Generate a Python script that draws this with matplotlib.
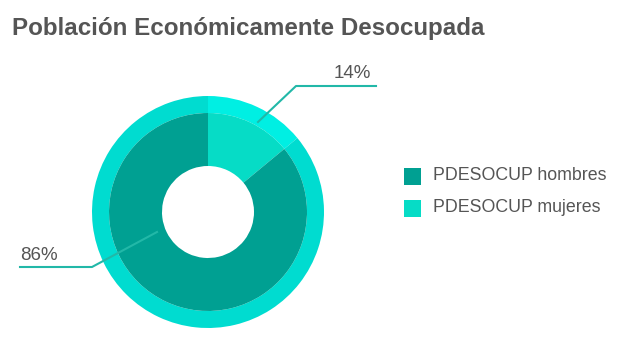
import matplotlib
matplotlib.use("Agg")
import matplotlib.pyplot as plt
from matplotlib.patches import Rectangle

# datos
categorias = ["PDESOCUP mujeres", "PDESOCUP hombres"]
valores = [14, 86]
etiquetas = ["14%", "86%"]

plt.rcParams['font.family'] = ['Liberation Sans', 'DejaVu Sans']

fig = plt.figure(figsize=(6.2, 3.51), dpi=100)
ax = fig.add_axes([0, 0, 1, 1])
ax.set_xlim(0, 620)
ax.set_ylim(0, 351)
ax.axis('off')

cx, cy = 208, 351 - 212

# anillo exterior
ax.pie(valores, startangle=90, counterclock=False, radius=116, center=(cx, cy),
       colors=["#00EFE3", "#00DCD0"], wedgeprops=dict(width=17, linewidth=0))
# anillo interior
ax.pie(valores, startangle=90, counterclock=False, radius=99, center=(cx, cy),
       colors=["#06DCC6", "#00A092"], wedgeprops=dict(width=53, linewidth=0))
ax.set_xlim(0, 620)
ax.set_ylim(0, 351)
ax.set_aspect('auto')

# lineas guia
linea = "#22B8A8"
ax.plot([258, 296, 376], [351 - 122, 351 - 86, 351 - 86], color=linea, lw=1.5)
ax.plot([157, 92, 20], [351 - 232, 351 - 267, 351 - 267], color=linea, lw=1.5)
ax.text(371, 351 - 82.5, etiquetas[0], ha='right', va='bottom', fontsize=13.5, color="#555555")
ax.text(20, 351 - 264, etiquetas[1], ha='left', va='bottom', fontsize=13.5, color="#555555")

# leyenda
leyenda = [("PDESOCUP hombres", "#00A092"), ("PDESOCUP mujeres", "#06DCC6")]
for i, (txt, col) in enumerate(leyenda):
    y = 351 - 176 - i * 32
    ax.add_patch(Rectangle((404, y - 8.5), 17, 17, color=col, lw=0))
    ax.text(433, y, txt, ha='left', va='center', fontsize=12.8, color="#555555")

fig.text(12 / 620, 1 - 28 / 351, "Población Económicamente Desocupada", ha='left', va='center',
         fontsize=17.4, fontweight='bold', color="#555555")

fig.savefig("out.png", dpi=100)
